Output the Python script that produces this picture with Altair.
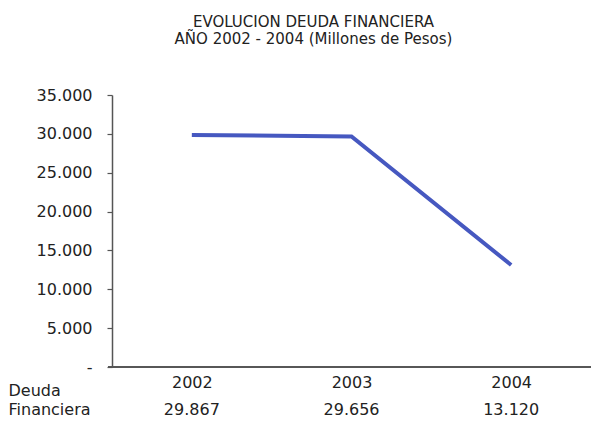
import altair as alt
import pandas as pd

# Financial debt, millions of pesos
years = ["2002", "2003", "2004"]
debt = [29867, 29656, 13120]
y_ticks = [0, 5000, 10000, 15000, 20000, 25000, 30000, 35000]

df = pd.DataFrame({
    "year": years,
    "debt": debt,
    "debt_label": [f"{v:,}".replace(",", ".") for v in debt],
})

FONT = "DejaVu Sans"
INK = "#222222"
AXIS = "#555555"
W, H = 479, 272

x_enc = alt.X(
    "year:N",
    sort=years,
    scale=alt.Scale(paddingInner=1, paddingOuter=0.5),
    axis=alt.Axis(
        title=["Deuda", "Financiera"],
        titleX=-104, titleY=15, titleAlign="left", titleBaseline="top",
        titleFont=FONT, titleFontSize=16, titleFontWeight="normal",
        titleColor=INK, titleLineHeight=19,
        labelAngle=0, labelFont=FONT, labelFontSize=16, labelColor=INK,
        labelPadding=7, ticks=False, domain=False,
    ),
)

line = alt.Chart(df).mark_line(color="#4658c0", strokeWidth=4, strokeCap="butt").encode(
    x=x_enc,
    y=alt.Y(
        "debt:Q",
        scale=alt.Scale(domain=[0, 35000], nice=False),
        axis=alt.Axis(
            title=None, values=y_ticks, grid=False,
            labelExpr="datum.value == 0 ? '-' : replace(format(datum.value, ',d'), ',', '.')",
            labelFont=FONT, labelFontSize=16, labelColor=INK, labelPadding=15,
            tickSize=5, tickColor=AXIS, tickWidth=1.2,
            domainColor=AXIS, domainWidth=1.5,
        ),
    ),
)

# value row under the year labels
values = alt.Chart(df).mark_text(
    font=FONT, fontSize=16, color=INK, baseline="middle"
).encode(
    x=alt.X("year:N", sort=years),
    y=alt.value(H + 43),
    text="debt_label:N",
)

# baseline running slightly past the y axis to the right edge
baseline = alt.Chart(df).mark_rule(color=AXIS, strokeWidth=1.5).encode(
    x=alt.value(-4), x2=alt.value(W), y=alt.value(H)
)

chart = alt.layer(line, values, baseline).properties(
    width=W,
    height=H,
    background="white",
    padding={"left": 112, "top": 95, "right": 0, "bottom": 60},
    autosize=alt.AutoSizeParams(type="none"),
    title=alt.TitleParams(
        ["EVOLUCION DEUDA FINANCIERA", "AÑO 2002 - 2004 (Millones de Pesos)"],
        font=FONT, fontSize=15, fontWeight="normal", color=INK,
        anchor="middle", dx=-38, offset=40, lineHeight=17,
    ),
).configure_view(stroke=None)

chart.save("out.html", embed_options={"renderer": "svg", "actions": False})
